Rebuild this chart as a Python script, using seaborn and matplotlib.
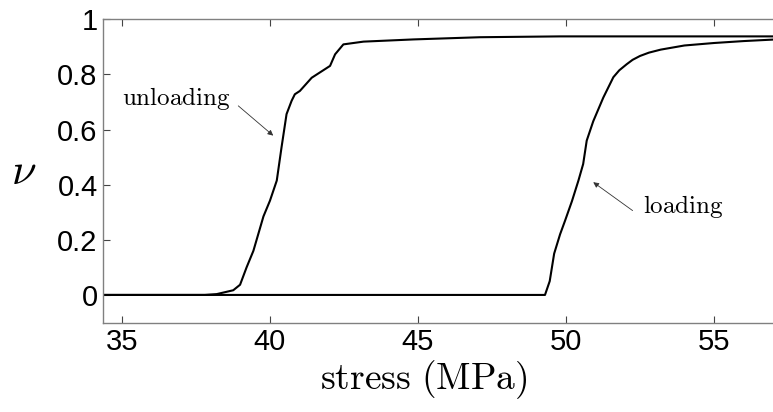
import matplotlib
matplotlib.use("Agg")
import matplotlib.pyplot as plt
import seaborn as sns
import pandas as pd

# Volume fraction nu versus applied stress, loading and unloading branches
loading_stress = [34.37, 49.29, 49.45, 49.60, 49.80, 49.97, 50.20, 50.42, 50.58, 50.70,
                  50.92, 51.26, 51.60, 51.80, 52.05, 52.25, 52.50, 52.80, 53.20, 54.00,
                  55.00, 56.00, 57.10]
loading_nu = [0.0, 0.0, 0.05, 0.15, 0.22, 0.27, 0.34, 0.415, 0.475, 0.56,
              0.63, 0.716, 0.79, 0.815, 0.837, 0.853, 0.867, 0.879, 0.89, 0.905,
              0.914, 0.921, 0.927]

unloading_stress = [34.37, 37.80, 38.20, 38.76, 38.99, 39.21, 39.44, 39.78, 40.00, 40.23,
                    40.39, 40.56, 40.73, 40.84, 41.01, 41.41, 42.03, 42.20, 42.48, 43.16,
                    44.85, 47.10, 49.80, 57.10]
unloading_nu = [0.0, 0.0, 0.003, 0.017, 0.037, 0.10, 0.16, 0.285, 0.342, 0.415,
                0.535, 0.656, 0.704, 0.728, 0.74, 0.788, 0.831, 0.873, 0.909, 0.919,
                0.927, 0.935, 0.938, 0.938]

x_ticks = [35, 40, 45, 50, 55]
y_ticks = [0, 0.2, 0.4, 0.6, 0.8, 1]
y_tick_labels = ["0", "0.2", "0.4", "0.6", "0.8", "1"]

sns.set_theme(style="ticks")
plt.rcParams["mathtext.fontset"] = "cm"
plt.rcParams["font.family"] = ["Liberation Sans", "DejaVu Sans"]
plt.rcParams["text.color"] = "black"
plt.rcParams["xtick.labelcolor"] = "black"
plt.rcParams["ytick.labelcolor"] = "black"

W, H = 773, 412
fig = plt.figure(figsize=(W / 100, H / 100), dpi=100)
left, bottom, top = 103.3, 322.5, 19.3
right = 775.0
ax = fig.add_axes([left / W, 1 - bottom / H, (right - left) / W, (bottom - top) / H])

df_load = pd.DataFrame({"stress": loading_stress, "nu": loading_nu})
df_unload = pd.DataFrame({"stress": unloading_stress, "nu": unloading_nu})
sns.lineplot(data=df_unload, x="stress", y="nu", sort=False, estimator=None,
             color="black", linewidth=1.5, ax=ax)
sns.lineplot(data=df_load, x="stress", y="nu", sort=False, estimator=None,
             color="black", linewidth=1.5, ax=ax)

ax.set_xlim(34.37, 57.06)
ax.set_ylim(-0.1, 1.0)
ax.set_xticks(x_ticks)
ax.set_xticklabels([str(t) for t in x_ticks])
ax.set_yticks(y_ticks)
ax.set_yticklabels(y_tick_labels)

for s in ax.spines.values():
    s.set_color("#808080")
    s.set_linewidth(1.0)
ax.tick_params(direction="in", length=5, width=0.8, color="#444444",
               top=True, right=False, labelsize=21, pad=4, labelcolor="black")
for lab in ax.get_xticklabels() + ax.get_yticklabels():
    lab.set_family(["Liberation Sans", "DejaVu Sans"])

ax.set_xlabel("")
ax.set_ylabel("")
fig.text(424 / W, 1 - 380 / H, r"$\mathrm{stress\ (MPa)}$", ha="center", va="center",
         fontsize=27, color="black")
fig.text(24 / W, 1 - 172 / H, r"$\nu$", ha="center", va="center", fontsize=32,
         color="black")

# Branch labels with pointer arrows
arrow_kw = dict(arrowstyle="-|>", color="#333333", lw=0.6, mutation_scale=8,
                shrinkA=0, shrinkB=0)
ax.text(38.65, 0.714, r"$\mathrm{unloading}$", fontsize=18, ha="right", va="center",
        color="black")
ax.annotate("", xy=(40.11, 0.578), xytext=(38.93, 0.686), arrowprops=arrow_kw)
ax.text(52.59, 0.32, r"$\mathrm{loading}$", fontsize=18, ha="left", va="center",
        color="black")
ax.annotate("", xy=(50.92, 0.409), xytext=(52.25, 0.306), arrowprops=arrow_kw)

fig.savefig("out.png", dpi=100)
